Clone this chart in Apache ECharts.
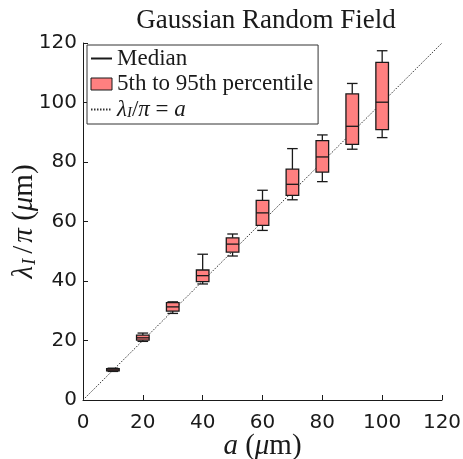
<!DOCTYPE html>
<html>
<head>
<meta charset="utf-8">
<script src="https://cdn.jsdelivr.net/npm/echarts@6/dist/echarts.min.js"></script>
<style>
  html, body { margin: 0; padding: 0; background: #fff; }
  #chart { width: 463px; height: 459px; }
</style>
</head>
<body>
<div id="chart"></div>
<script>
// ---- data ----
const aValues     = [10, 20, 30, 40, 50, 60, 70, 80, 90, 100];
const whiskerLow  = [9.6, 19.7, 29.1, 39.0, 48.4, 57.0, 67.3, 73.4, 84.3, 88.2];
const p5          = [9.8, 20.1, 29.9, 39.8, 49.7, 58.7, 68.8, 76.6, 85.9, 90.9];
const median      = [10.1, 20.9, 31.3, 41.8, 52.4, 62.9, 72.5, 81.7, 92.0, 100.1];
const p95         = [10.5, 21.8, 32.7, 43.7, 54.5, 67.1, 77.6, 87.2, 102.9, 113.5];
const whiskerHigh = [10.7, 22.5, 33.0, 49.0, 55.8, 70.5, 84.5, 89.1, 106.4, 117.4];
const identityLine = [[0, 0], [120, 120]];
const axisMin = 0, axisMax = 120, axisStep = 20;

const boxData = aValues.map((a, i) => [a, whiskerLow[i], p5[i], median[i], p95[i], whiskerHigh[i]]);

const INK = '#1a1a1a';
const FILL = '#ff8080';

function renderBox(params, api) {
  const x = api.value(0);
  const c = api.coord([x, api.value(3)]);
  const cx = c[0];
  const yMin = api.coord([x, api.value(1)])[1];
  const yP5 = api.coord([x, api.value(2)])[1];
  const yMed = c[1];
  const yP95 = api.coord([x, api.value(4)])[1];
  const yMax = api.coord([x, api.value(5)])[1];
  const hw = 6.3, cw = 5.3;
  const ls = { stroke: INK, lineWidth: 1.3 };
  return {
    type: 'group',
    children: [
      { type: 'line', shape: { x1: cx, y1: yMax, x2: cx, y2: yP95 }, style: ls },
      { type: 'line', shape: { x1: cx, y1: yP5, x2: cx, y2: yMin }, style: ls },
      { type: 'line', shape: { x1: cx - cw, y1: yMax, x2: cx + cw, y2: yMax }, style: ls },
      { type: 'line', shape: { x1: cx - cw, y1: yMin, x2: cx + cw, y2: yMin }, style: ls },
      { type: 'rect', shape: { x: cx - hw, y: yP95, width: 2 * hw, height: yP5 - yP95 },
        style: { fill: FILL, stroke: INK, lineWidth: 1.3 } },
      { type: 'line', shape: { x1: cx - hw, y1: yMed, x2: cx + hw, y2: yMed }, style: ls }
    ]
  };
}

const serif = 'Liberation Serif';
const sans = 'DejaVu Sans';
const NF = 29;
const nameRich = {
  i: { fontFamily: serif, fontStyle: 'italic', fontSize: NF, color: INK, lineHeight: 30 },
  n: { fontFamily: serif, fontSize: NF, color: INK, lineHeight: 30 },
  s: { fontFamily: serif, fontSize: NF, color: INK, lineHeight: 30, padding: [0, 3, 0, 3] },
  sub: { fontFamily: serif, fontStyle: 'italic', fontSize: 19, color: INK, verticalAlign: 'bottom', padding: [0, 2, 0, 1] }
};

const legendRich = {
  t: { fontFamily: serif, fontSize: 23, color: INK, lineHeight: 24 },
  i: { fontFamily: serif, fontSize: 23, fontStyle: 'italic', color: INK, lineHeight: 24 },
  sub: { fontFamily: serif, fontSize: 15, fontStyle: 'italic', color: INK, lineHeight: 24, padding: [8, 0, 0, 0] }
};

const chart = echarts.init(document.getElementById('chart'), null, { renderer: 'canvas' });
chart.setOption({
  animation: false,
  backgroundColor: '#fff',
  title: {
    text: 'Gaussian Random Field',
    left: 261, top: 2, textAlign: 'center',
    textStyle: { fontFamily: serif, fontSize: 27, fontWeight: 'normal', color: INK }
  },
  grid: { left: 83, right: 21, top: 43, bottom: 59, containLabel: false, outerBoundsMode: 'none' },
  legend: {
    orient: 'vertical', left: 87, top: 45,
    padding: [2, 5, 3, 3], itemGap: 2.5,
    itemWidth: 21, itemHeight: 12,
    backgroundColor: '#fff', borderColor: '#333', borderWidth: 1,
    textStyle: { fontFamily: serif, fontSize: 23, color: INK, rich: legendRich },
    formatter: function (name) {
      if (name === 'identity') return '{i|λ}{sub|I}{t|/}{i|π}{t| = }{i|a}';
      return '{t|' + name + '}';
    },
    data: [
      { name: 'Median', itemStyle: { opacity: 0 } },
      { name: '5th to 95th percentile', icon: 'rect', itemStyle: { color: FILL, borderColor: INK, borderWidth: 1 } },
      { name: 'identity', itemStyle: { opacity: 0 } }
    ],
    selectedMode: false
  },
  xAxis: {
    type: 'value', min: axisMin, max: axisMax, interval: axisStep,
    name: '{i|a}{n| (}{i|μ}{n|m)}', nameLocation: 'middle', nameGap: 31, nameMoveOverlap: false,
    nameTextStyle: { rich: nameRich },
    axisLine: { show: true, onZero: false, lineStyle: { color: INK, width: 1 } },
    axisTick: { show: true, inside: true, length: 5, lineStyle: { color: INK } },
    axisLabel: { fontFamily: sans, fontSize: 20, color: INK, margin: 13 },
    splitLine: { show: false }
  },
  yAxis: {
    type: 'value', min: axisMin, max: axisMax, interval: axisStep,
    name: '{i|λ}{sub|I}{s|/}{i|π}{n| (}{i|μ}{n|m)}', nameLocation: 'middle', nameGap: 44, nameRotate: 90, nameMoveOverlap: false,
    nameTextStyle: { rich: nameRich },
    axisLine: { show: true, onZero: false, lineStyle: { color: INK, width: 1 } },
    axisTick: { show: true, inside: true, length: 5, lineStyle: { color: INK } },
    axisLabel: { fontFamily: sans, fontSize: 20, color: INK, margin: 6 },
    splitLine: { show: false }
  },
  series: [
    {
      name: 'identity', type: 'line', data: identityLine, symbol: 'none', z: 1,
      lineStyle: { color: '#333', width: 1, type: [1.5, 1.5] }, silent: true
    },
    {
      name: 'Median', type: 'line', data: [], symbol: 'none',
      lineStyle: { color: INK, width: 1.3 }, itemStyle: { color: INK }
    },
    {
      name: '5th to 95th percentile', type: 'custom', z: 3,
      renderItem: renderBox, data: boxData,
      encode: { x: 0, y: [1, 2, 3, 4, 5] },
      itemStyle: { color: FILL }
    }
  ]
});
</script>
</body>
</html>
